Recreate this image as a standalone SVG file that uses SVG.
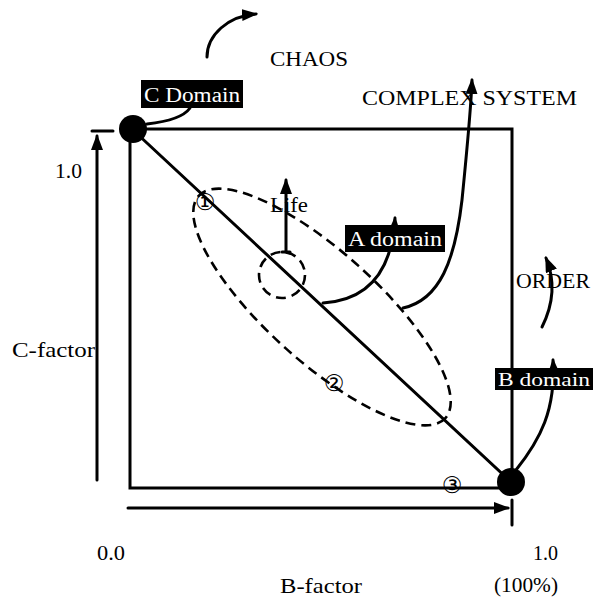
<svg xmlns="http://www.w3.org/2000/svg" width="601" height="598" viewBox="0 0 601 598">
<defs>
<style>
.ln{fill:none;stroke:#000;stroke-width:3;stroke-linecap:round}
.dash{fill:none;stroke:#000;stroke-width:2.6;stroke-dasharray:10 6}
.t{font-family:"Liberation Serif","Times New Roman",serif;font-size:22px;fill:#000}
.w{font-family:"Liberation Serif","Times New Roman",serif;font-size:20px;fill:#fff}
.n{font-family:"DejaVu Sans","Noto Sans CJK JP",sans-serif;font-size:23px;fill:#000;text-anchor:middle}
</style>
<marker id="ah" viewBox="0 0 16 12" refX="14" refY="6" markerWidth="16" markerHeight="12" markerUnits="userSpaceOnUse" orient="auto">
<path d="M0,0 L16,6 L0,12 z" fill="#000"/>
</marker>
</defs>
<rect width="601" height="598" fill="#fff"/>

<g id="connectors">
<path class="ln" d="M133,129 H512 V482"/>
<path class="ln" d="M130,130 V488 H500"/>
<line class="ln" x1="133" y1="130" x2="511" y2="482"/>
<line class="ln" x1="97" y1="480" x2="97" y2="136" marker-end="url(#ah)"/>
<line class="ln" x1="92" y1="131" x2="113" y2="131"/>
<line class="ln" x1="128" y1="508" x2="508" y2="508" marker-end="url(#ah)"/>
<line class="ln" x1="512" y1="500" x2="512" y2="525"/>
<ellipse class="dash" cx="322" cy="307" rx="166" ry="55" transform="rotate(42 322 307)"/>
<circle class="dash" cx="282" cy="275" r="23"/>
<line class="ln" x1="286" y1="252" x2="286" y2="180" marker-end="url(#ah)"/>
<line class="ln" x1="282" y1="252" x2="290" y2="252"/>
<path class="ln" d="M147,124 C165,122 183,118 190,108"/>
<path class="ln" d="M207,57 C207,35 228,16 256,14" marker-end="url(#ah)"/>
<path class="ln" d="M323,303 C370,300 392,270 395,218" marker-end="url(#ah)"/>
<path class="ln" d="M403,308 C440,300 455,260 462,200 C467,150 471,110 472,80" marker-end="url(#ah)"/>
<path class="ln" d="M542,327 C553,305 556,282 546,258" marker-end="url(#ah)"/>
<path class="ln" d="M516,470 C540,440 556,410 553,360" marker-end="url(#ah)"/>
</g>

<g id="c-domain">
<circle cx="133" cy="129" r="14" fill="#000"/>
<rect x="141" y="80" width="102" height="28" fill="#000"/>
<text class="w" x="144" y="102" textLength="96" lengthAdjust="spacingAndGlyphs">C Domain</text>
</g>

<g id="b-domain">
<circle cx="511" cy="482" r="14" fill="#000"/>
<rect x="495" y="368" width="98" height="22" fill="#000"/>
<text class="w" x="498" y="386" textLength="92" lengthAdjust="spacingAndGlyphs" style="font-size:18px">B domain</text>
</g>

<g id="a-domain">
<rect x="345" y="225" width="100" height="27" fill="#000"/>
<text class="w" x="348" y="246" textLength="94" lengthAdjust="spacingAndGlyphs">A domain</text>
</g>

<g id="labels">
<text class="t" x="270" y="66" textLength="78" lengthAdjust="spacingAndGlyphs">CHAOS</text>
<text class="t" x="362" y="105" textLength="215" lengthAdjust="spacingAndGlyphs">COMPLEX SYSTEM</text>
<text class="t" x="516" y="288" textLength="74" lengthAdjust="spacingAndGlyphs">ORDER</text>
<text class="t" x="270" y="212" textLength="38" lengthAdjust="spacingAndGlyphs">Life</text>
<text class="t" x="55" y="178" textLength="27" lengthAdjust="spacingAndGlyphs">1.0</text>
<text class="t" x="12" y="357" textLength="83" lengthAdjust="spacingAndGlyphs">C-factor</text>
<text class="t" x="97" y="560" textLength="28" lengthAdjust="spacingAndGlyphs">0.0</text>
<text class="t" x="533" y="560" textLength="25" lengthAdjust="spacingAndGlyphs">1.0</text>
<text class="t" x="280" y="593" textLength="82" lengthAdjust="spacingAndGlyphs">B-factor</text>
<text class="t" x="494" y="592" textLength="64" lengthAdjust="spacingAndGlyphs">(100%)</text>
</g>

<g id="numbers">
<text class="n" x="205" y="210">①</text>
<text class="n" x="334" y="391">②</text>
<text class="n" x="452" y="493">③</text>
</g>
</svg>
